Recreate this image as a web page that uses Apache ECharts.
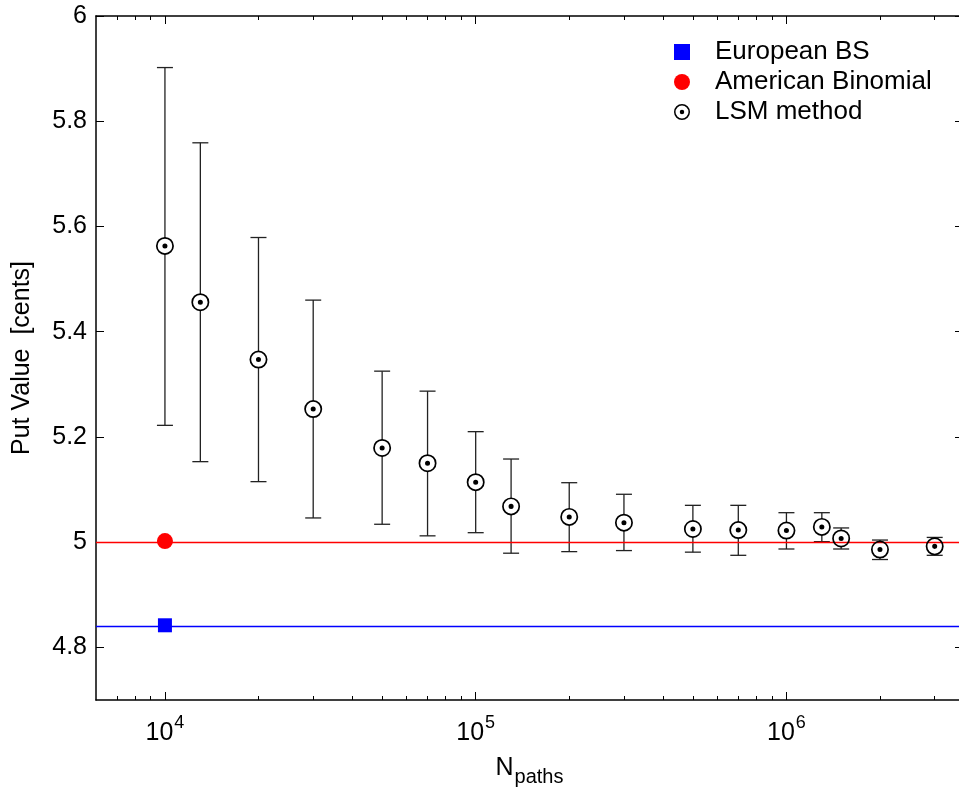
<!DOCTYPE html>
<html>
<head>
<meta charset="utf-8">
<script src="https://cdn.jsdelivr.net/npm/echarts@6/dist/echarts.min.js"></script>
<style>
  html, body { margin: 0; padding: 0; background: #fff; }
  #chart { width: 959px; height: 790px; }
</style>
</head>
<body>
<div id="chart"></div>
<script>
// LSM estimates vs number of paths
const nPaths = [1e4, 1.3e4, 2e4, 3e4, 5e4, 7e4, 1e5, 1.3e5, 2e5, 3e5, 5e5, 7e5, 1e6, 1.3e6, 1.5e6, 2e6, 3e6];
const lsmMean = [5.563, 5.456, 5.347, 5.253, 5.179, 5.150, 5.114, 5.068, 5.048, 5.037, 5.025, 5.023, 5.022, 5.029, 5.007, 4.986, 4.992];
const lsmLow  = [5.222, 5.153, 5.115, 5.046, 5.034, 5.012, 5.018, 4.979, 4.982, 4.984, 4.981, 4.975, 4.987, 5.001, 4.987, 4.967, 4.975];
const lsmHigh = [5.902, 5.759, 5.579, 5.460, 5.325, 5.287, 5.210, 5.158, 5.113, 5.091, 5.070, 5.070, 5.056, 5.056, 5.027, 5.004, 5.009];

const europeanBS = 4.842;
const americanBinomial = 5.002;
const refN = 1e4;

const xMajorTicks = [1e4, 1e5, 1e6];
const xMinorTicks = [7e3, 8e3, 9e3, 2e4, 3e4, 4e4, 5e4, 6e4, 7e4, 8e4, 9e4,
  2e5, 3e5, 4e5, 5e5, 6e5, 7e5, 8e5, 9e5, 2e6, 3e6];
const yTicks = [4.8, 5, 5.2, 5.4, 5.6, 5.8, 6];

const FONT = '"Liberation Sans", Arial, Helvetica, sans-serif';
// ring + centre dot, inner circle wound the other way so it stays hollow
const ringPath = 'path://M10,0A10,10 0 1,1 10,20A10,10 0 1,1 10,0Z' +
  'M10,1.9A8.1,8.1 0 1,0 10,18.1A8.1,8.1 0 1,0 10,1.9Z' +
  'M10,7.2A2.8,2.8 0 1,1 10,12.8A2.8,2.8 0 1,1 10,7.2Z';
const squarePath = 'path://M0,0H10V10H0Z';

const chart = echarts.init(document.getElementById('chart'), null, { renderer: 'canvas' });

const xBase = {
  type: 'log', min: 6000, max: 3.7e6, logBase: 10,
  splitLine: { show: false }, axisLabel: { show: false },
  axisLine: { show: false }
};
const tickStyle = { color: '#000', width: 1 };

chart.setOption({
  animation: false,
  grid: { left: 96, top: 16, right: -4, bottom: 90, containLabel: false, outerBoundsMode: 'none' },
  legend: {
    orient: 'vertical', left: 669, top: 34, itemWidth: 16, itemHeight: 16, itemGap: 4,
    selectedMode: false,
    textStyle: { fontFamily: FONT, fontSize: 26, color: '#000', padding: [0, 0, 0, 20] },
    data: [
      { name: 'European BS', icon: squarePath },
      { name: 'American Binomial', icon: 'circle' },
      { name: 'LSM method', icon: ringPath }
    ]
  },
  xAxis: [
    Object.assign({}, xBase, {
      position: 'bottom',
      axisLine: { show: true, lineStyle: { color: '#000', width: 1.5 } },
      axisTick: { show: true, inside: true, length: 8, lineStyle: tickStyle, customValues: xMajorTicks },
      axisLabel: {
        show: true, customValues: xMajorTicks, margin: 14, color: '#000',
        formatter: v => '{b|10}{s|' + Math.round(Math.log10(v)) + '}',
        rich: {
          b: { fontFamily: FONT, fontSize: 25, color: '#000' },
          s: { fontFamily: FONT, fontSize: 18, color: '#000', padding: [0, 0, 20, 1] }
        }
      },
      name: '{n|N}{s|paths}', nameLocation: 'middle', nameGap: 49,
      nameTextStyle: {
        rich: {
          n: { fontFamily: FONT, fontSize: 25, color: '#000' },
          s: { fontFamily: FONT, fontSize: 20, color: '#000', padding: [18, 0, 0, 1] }
        }
      }
    }),
    Object.assign({}, xBase, {
      position: 'bottom',
      axisTick: { show: true, inside: true, length: 4, lineStyle: tickStyle, customValues: xMinorTicks }
    }),
    Object.assign({}, xBase, {
      position: 'top',
      axisLine: { show: true, lineStyle: { color: '#000', width: 1.5 } },
      axisTick: { show: true, inside: true, length: 8, lineStyle: tickStyle, customValues: xMajorTicks }
    }),
    Object.assign({}, xBase, {
      position: 'top',
      axisTick: { show: true, inside: true, length: 4, lineStyle: tickStyle, customValues: xMinorTicks }
    })
  ],
  yAxis: [
    {
      type: 'value', min: 4.7, max: 6, position: 'left',
      splitLine: { show: false },
      axisLine: { show: true, lineStyle: { color: '#000', width: 1.5 } },
      axisTick: { show: true, inside: true, length: 8, lineStyle: tickStyle, customValues: yTicks },
      axisLabel: { customValues: yTicks, margin: 9, fontFamily: FONT, fontSize: 25, color: '#000' },
      name: 'Put Value  [cents]', nameLocation: 'middle', nameGap: 61, nameRotate: 90,
      nameTextStyle: { fontFamily: FONT, fontSize: 25, color: '#000' }
    },
    {
      type: 'value', min: 4.7, max: 6, position: 'right',
      splitLine: { show: false },
      axisLine: { show: true, lineStyle: { color: '#000', width: 1.5 } },
      axisTick: { show: true, inside: true, length: 8, lineStyle: tickStyle, customValues: yTicks },
      axisLabel: { show: false }
    }
  ],
  series: [
    {
      name: 'European BS', type: 'scatter', symbol: squarePath, symbolSize: 14, z: 4,
      itemStyle: { color: '#0000ff', opacity: 1 },
      data: [[refN, europeanBS]],
      markLine: {
        silent: true, symbol: 'none', label: { show: false },
        lineStyle: { color: '#0000ff', width: 1.4, type: 'solid', opacity: 1 },
        data: [{ yAxis: europeanBS }]
      }
    },
    {
      name: 'American Binomial', type: 'scatter', symbol: 'circle', symbolSize: 16, z: 4,
      itemStyle: { color: '#ff0000', opacity: 1 },
      data: [[refN, americanBinomial]],
      markLine: {
        silent: true, symbol: 'none', label: { show: false },
        lineStyle: { color: '#ff0000', width: 1.4, type: 'solid', opacity: 1 },
        data: [{ yAxis: americanBinomial }]
      }
    },
    {
      name: 'LSM bars', type: 'custom', z: 3,
      data: nPaths.map((n, i) => [n, lsmMean[i], lsmLow[i], lsmHigh[i]]),
      renderItem: (params, api) => {
        const top = api.coord([api.value(0), api.value(3)]);
        const bot = api.coord([api.value(0), api.value(2)]);
        const mid = api.coord([api.value(0), api.value(1)]);
        const hw = 8;
        const st = { stroke: '#222', lineWidth: 1.3, fill: null };
        return {
          type: 'group',
          children: [
            { type: 'line', shape: { x1: top[0], y1: top[1], x2: bot[0], y2: bot[1] }, style: st },
            { type: 'line', shape: { x1: top[0] - hw, y1: top[1], x2: top[0] + hw, y2: top[1] }, style: st },
            { type: 'line', shape: { x1: bot[0] - hw, y1: bot[1], x2: bot[0] + hw, y2: bot[1] }, style: st },
            { type: 'circle', shape: { cx: mid[0], cy: mid[1], r: 8 }, style: { fill: '#fff' } }
          ]
        };
      }
    },
    {
      name: 'LSM method', type: 'scatter', symbol: ringPath, symbolSize: 18, z: 5,
      itemStyle: { color: '#000', opacity: 1 },
      data: nPaths.map((n, i) => [n, lsmMean[i]])
    }
  ]
});
</script>
</body>
</html>
